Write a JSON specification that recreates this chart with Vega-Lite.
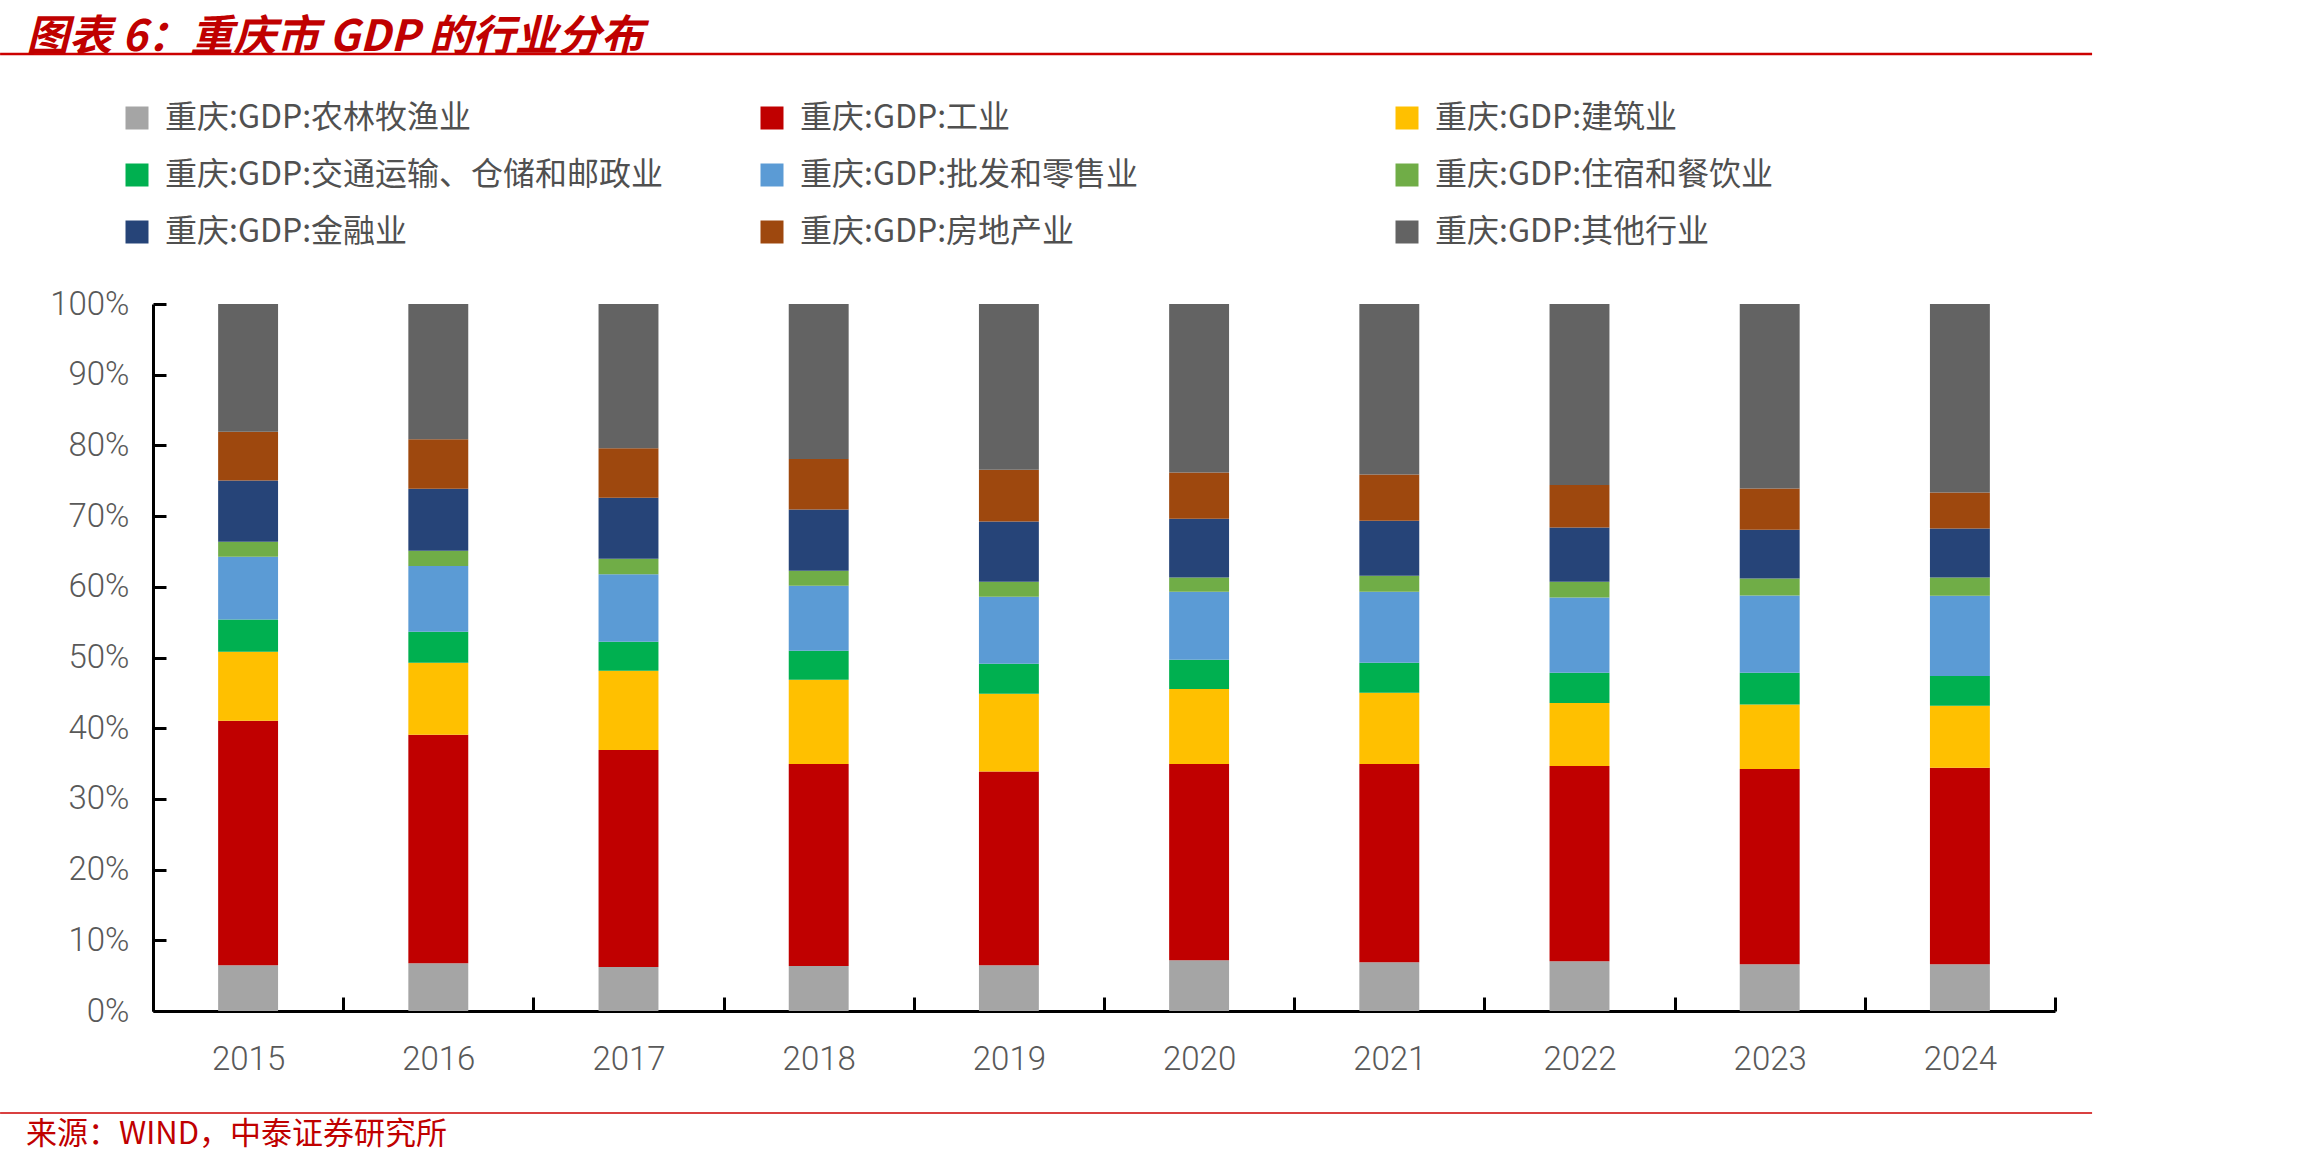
{
  "$schema": "https://vega.github.io/schema/vega-lite/v6.json",
  "width": 1902,
  "height": 707,
  "autosize": {"type": "none"},
  "padding": {"left": 153, "top": 304, "right": 247, "bottom": 156},
  "background": "white",
  "title": {
    "text": "图表 6：重庆市 GDP 的行业分布",
    "anchor": "start",
    "frame": "group",
    "orient": "top",
    "font": "Noto Sans CJK SC",
    "fontSize": 43,
    "fontWeight": "bold",
    "fontStyle": "italic",
    "color": "#C00000",
    "dx": -127,
    "dy": 7,
    "offset": 0
  },
  "config": {
    "view": {"stroke": null},
    "axis": {
      "labelFont": "Roboto",
      "labelFontWeight": 300,
      "labelFontSize": 33,
      "labelColor": "#595959",
      "domainColor": "#000000",
      "domainWidth": 3,
      "tickColor": "#000000",
      "tickWidth": 3,
      "grid": false,
      "title": null
    },
    "legend": {
      "orient": "none",
      "legendX": -32,
      "legendY": -202,
      "direction": "horizontal",
      "columns": 3,
      "gridAlign": "all",
      "padding": 0,
      "symbolType": "square",
      "symbolSize": 529,
      "symbolStrokeWidth": 0,
      "labelFont": "Noto Sans CJK SC",
      "labelFontSize": 32,
      "labelColor": "#505050",
      "labelLimit": 1000,
      "labelOffset": 12,
      "rowPadding": 25,
      "columnPadding": 92,
      "title": null
    }
  },
  "datasets": {
    "gdp": [
      {"year": "2015", "industry": "重庆:GDP:农林牧渔业", "share": 6.47},
      {"year": "2015", "industry": "重庆:GDP:工业", "share": 34.57},
      {"year": "2015", "industry": "重庆:GDP:建筑业", "share": 9.76},
      {"year": "2015", "industry": "重庆:GDP:交通运输、仓储和邮政业", "share": 4.58},
      {"year": "2015", "industry": "重庆:GDP:批发和零售业", "share": 8.86},
      {"year": "2015", "industry": "重庆:GDP:住宿和餐饮业", "share": 2.13},
      {"year": "2015", "industry": "重庆:GDP:金融业", "share": 8.68},
      {"year": "2015", "industry": "重庆:GDP:房地产业", "share": 6.88},
      {"year": "2015", "industry": "重庆:GDP:其他行业", "share": 18.07},
      {"year": "2016", "industry": "重庆:GDP:农林牧渔业", "share": 6.75},
      {"year": "2016", "industry": "重庆:GDP:工业", "share": 32.31},
      {"year": "2016", "industry": "重庆:GDP:建筑业", "share": 10.18},
      {"year": "2016", "industry": "重庆:GDP:交通运输、仓储和邮政业", "share": 4.39},
      {"year": "2016", "industry": "重庆:GDP:批发和零售业", "share": 9.30},
      {"year": "2016", "industry": "重庆:GDP:住宿和餐饮业", "share": 2.16},
      {"year": "2016", "industry": "重庆:GDP:金融业", "share": 8.78},
      {"year": "2016", "industry": "重庆:GDP:房地产业", "share": 6.99},
      {"year": "2016", "industry": "重庆:GDP:其他行业", "share": 19.14},
      {"year": "2017", "industry": "重庆:GDP:农林牧渔业", "share": 6.23},
      {"year": "2017", "industry": "重庆:GDP:工业", "share": 30.70},
      {"year": "2017", "industry": "重庆:GDP:建筑业", "share": 11.18},
      {"year": "2017", "industry": "重庆:GDP:交通运输、仓储和邮政业", "share": 4.11},
      {"year": "2017", "industry": "重庆:GDP:批发和零售业", "share": 9.57},
      {"year": "2017", "industry": "重庆:GDP:住宿和餐饮业", "share": 2.17},
      {"year": "2017", "industry": "重庆:GDP:金融业", "share": 8.63},
      {"year": "2017", "industry": "重庆:GDP:房地产业", "share": 6.99},
      {"year": "2017", "industry": "重庆:GDP:其他行业", "share": 20.42},
      {"year": "2018", "industry": "重庆:GDP:农林牧渔业", "share": 6.37},
      {"year": "2018", "industry": "重庆:GDP:工业", "share": 28.58},
      {"year": "2018", "industry": "重庆:GDP:建筑业", "share": 11.89},
      {"year": "2018", "industry": "重庆:GDP:交通运输、仓储和邮政业", "share": 4.10},
      {"year": "2018", "industry": "重庆:GDP:批发和零售业", "share": 9.20},
      {"year": "2018", "industry": "重庆:GDP:住宿和餐饮业", "share": 2.12},
      {"year": "2018", "industry": "重庆:GDP:金融业", "share": 8.69},
      {"year": "2018", "industry": "重庆:GDP:房地产业", "share": 7.12},
      {"year": "2018", "industry": "重庆:GDP:其他行业", "share": 21.93},
      {"year": "2019", "industry": "重庆:GDP:农林牧渔业", "share": 6.47},
      {"year": "2019", "industry": "重庆:GDP:工业", "share": 27.41},
      {"year": "2019", "industry": "重庆:GDP:建筑业", "share": 10.98},
      {"year": "2019", "industry": "重庆:GDP:交通运输、仓储和邮政业", "share": 4.24},
      {"year": "2019", "industry": "重庆:GDP:批发和零售业", "share": 9.48},
      {"year": "2019", "industry": "重庆:GDP:住宿和餐饮业", "share": 2.12},
      {"year": "2019", "industry": "重庆:GDP:金融业", "share": 8.55},
      {"year": "2019", "industry": "重庆:GDP:房地产业", "share": 7.30},
      {"year": "2019", "industry": "重庆:GDP:其他行业", "share": 23.45},
      {"year": "2020", "industry": "重庆:GDP:农林牧渔业", "share": 7.17},
      {"year": "2020", "industry": "重庆:GDP:工业", "share": 27.78},
      {"year": "2020", "industry": "重庆:GDP:建筑业", "share": 10.61},
      {"year": "2020", "industry": "重庆:GDP:交通运输、仓储和邮政业", "share": 4.11},
      {"year": "2020", "industry": "重庆:GDP:批发和零售业", "share": 9.62},
      {"year": "2020", "industry": "重庆:GDP:住宿和餐饮业", "share": 2.04},
      {"year": "2020", "industry": "重庆:GDP:金融业", "share": 8.29},
      {"year": "2020", "industry": "重庆:GDP:房地产业", "share": 6.56},
      {"year": "2020", "industry": "重庆:GDP:其他行业", "share": 23.82},
      {"year": "2021", "industry": "重庆:GDP:农林牧渔业", "share": 6.89},
      {"year": "2021", "industry": "重庆:GDP:工业", "share": 28.06},
      {"year": "2021", "industry": "重庆:GDP:建筑业", "share": 10.05},
      {"year": "2021", "industry": "重庆:GDP:交通运输、仓储和邮政业", "share": 4.24},
      {"year": "2021", "industry": "重庆:GDP:批发和零售业", "share": 10.05},
      {"year": "2021", "industry": "重庆:GDP:住宿和餐饮业", "share": 2.26},
      {"year": "2021", "industry": "重庆:GDP:金融业", "share": 7.79},
      {"year": "2021", "industry": "重庆:GDP:房地产业", "share": 6.56},
      {"year": "2021", "industry": "重庆:GDP:其他行业", "share": 24.10},
      {"year": "2022", "industry": "重庆:GDP:农林牧渔业", "share": 7.03},
      {"year": "2022", "industry": "重庆:GDP:工业", "share": 27.64},
      {"year": "2022", "industry": "重庆:GDP:建筑业", "share": 8.91},
      {"year": "2022", "industry": "重庆:GDP:交通运输、仓储和邮政业", "share": 4.25},
      {"year": "2022", "industry": "重庆:GDP:批发和零售业", "share": 10.67},
      {"year": "2022", "industry": "重庆:GDP:住宿和餐饮业", "share": 2.20},
      {"year": "2022", "industry": "重庆:GDP:金融业", "share": 7.70},
      {"year": "2022", "industry": "重庆:GDP:房地产业", "share": 5.99},
      {"year": "2022", "industry": "重庆:GDP:其他行业", "share": 25.61},
      {"year": "2023", "industry": "重庆:GDP:农林牧渔业", "share": 6.61},
      {"year": "2023", "industry": "重庆:GDP:工业", "share": 27.63},
      {"year": "2023", "industry": "重庆:GDP:建筑业", "share": 9.12},
      {"year": "2023", "industry": "重庆:GDP:交通运输、仓储和邮政业", "share": 4.47},
      {"year": "2023", "industry": "重庆:GDP:批发和零售业", "share": 10.95},
      {"year": "2023", "industry": "重庆:GDP:住宿和餐饮业", "share": 2.41},
      {"year": "2023", "industry": "重庆:GDP:金融业", "share": 6.87},
      {"year": "2023", "industry": "重庆:GDP:房地产业", "share": 5.86},
      {"year": "2023", "industry": "重庆:GDP:其他行业", "share": 26.08},
      {"year": "2024", "industry": "重庆:GDP:农林牧渔业", "share": 6.61},
      {"year": "2024", "industry": "重庆:GDP:工业", "share": 27.78},
      {"year": "2024", "industry": "重庆:GDP:建筑业", "share": 8.77},
      {"year": "2024", "industry": "重庆:GDP:交通运输、仓储和邮政业", "share": 4.24},
      {"year": "2024", "industry": "重庆:GDP:批发和零售业", "share": 11.32},
      {"year": "2024", "industry": "重庆:GDP:住宿和餐饮业", "share": 2.61},
      {"year": "2024", "industry": "重庆:GDP:金融业", "share": 6.93},
      {"year": "2024", "industry": "重庆:GDP:房地产业", "share": 5.09},
      {"year": "2024", "industry": "重庆:GDP:其他行业", "share": 26.65}
    ]
  },
  "layer": [
    {
      "data": {"name": "gdp"},
      "transform": [
        {"window": [{"op": "row_number", "as": "stack_rank"}], "groupby": ["year"]}
      ],
      "mark": {"type": "bar", "width": {"band": 0.315}},
      "encoding": {
        "x": {
          "field": "year",
          "type": "ordinal",
          "scale": {"paddingInner": 0, "paddingOuter": 0},
          "axis": {
            "labelAngle": 0,
            "tickBand": "extent",
            "tickSize": -14,
            "labelPadding": 46
          }
        },
        "y": {
          "field": "share",
          "type": "quantitative",
          "stack": "normalize",
          "scale": {"domain": [0, 1], "nice": false},
          "axis": {
            "values": [0, 0.1, 0.2, 0.3, 0.4, 0.5, 0.6, 0.7, 0.8, 0.9, 1],
            "format": ".0%",
            "tickSize": -13,
            "labelPadding": 37
          }
        },
        "order": {"field": "stack_rank", "type": "quantitative", "sort": "ascending"},
        "color": {
          "field": "industry",
          "type": "nominal",
          "scale": {
            "domain": [
              "重庆:GDP:农林牧渔业",
              "重庆:GDP:工业",
              "重庆:GDP:建筑业",
              "重庆:GDP:交通运输、仓储和邮政业",
              "重庆:GDP:批发和零售业",
              "重庆:GDP:住宿和餐饮业",
              "重庆:GDP:金融业",
              "重庆:GDP:房地产业",
              "重庆:GDP:其他行业"
            ],
            "range": ["#A5A5A5", "#C00000", "#FFC000", "#00B050", "#5B9BD5", "#70AD47", "#264478", "#9E480E", "#636363"]
          }
        }
      }
    },
    {
      "data": {"values": [{"source": "来源：WIND，中泰证券研究所"}]},
      "layer": [
        {
          "mark": {"type": "rule", "color": "#CC0000", "strokeWidth": 2.5, "clip": false},
          "encoding": {
            "x": {"datum": -0.0804, "type": "quantitative", "scale": {"domain": [0, 1], "nice": false, "zero": false}, "axis": null},
            "x2": {"datum": 1.0195},
            "y": {"datum": 1.3536, "type": "quantitative", "scale": {"domain": [0, 1], "nice": false, "zero": false}, "axis": null}
          }
        },
        {
          "mark": {"type": "rule", "color": "#CC0000", "strokeWidth": 1.5, "clip": false},
          "encoding": {
            "x": {"datum": -0.0804, "type": "quantitative", "axis": null},
            "x2": {"datum": 1.0195},
            "y": {"datum": -0.1443, "type": "quantitative", "axis": null}
          }
        },
        {
          "mark": {"type": "text", "align": "left", "baseline": "middle", "font": "Noto Sans CJK SC", "fontSize": 31, "color": "#C00000", "clip": false},
          "encoding": {
            "x": {"datum": -0.0668, "type": "quantitative", "axis": null},
            "y": {"datum": -0.1754, "type": "quantitative", "axis": null},
            "text": {"field": "source"}
          }
        }
      ]
    }
  ],
  "resolve": {"scale": {"x": "independent", "y": "independent"}}
}
